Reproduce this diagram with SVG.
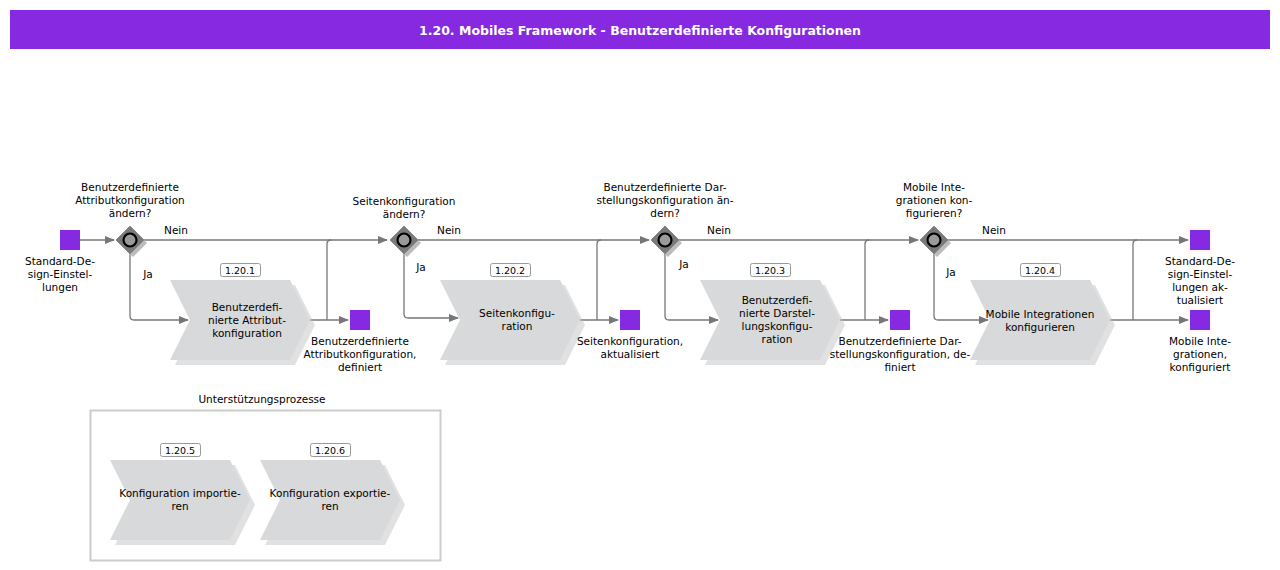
<svg xmlns="http://www.w3.org/2000/svg" width="1280" height="570" viewBox="0 0 1280 570">
<style>
text{font-family:"DejaVu Sans",Verdana,sans-serif;font-size:10.5px;fill:#000;text-anchor:middle}
.ev{fill:#8629e0}
.chev{fill:#d8d9db}
.sh{fill:#c4c4c4;opacity:.5}
.gw{fill:#7a7a7a;stroke:#888;stroke-width:1}
.gc{fill:#999;stroke:#000;stroke-width:2.2}
.tag{fill:#fff;stroke:#999;stroke-width:1}
.tagt{font-size:9.5px}
.c{fill:none;stroke:#777;stroke-width:1.3}
</style>
<defs>
<marker id="a" markerWidth="10" markerHeight="8" refX="9" refY="4" orient="auto" markerUnits="userSpaceOnUse"><path d="M0,0 L10,4 L0,8 Z" fill="#777"/></marker>
<path id="chv" d="M0,0 H120 L140,40 L120,80 H0 L20,40 Z"/>
<path id="gwp" d="M0,-14 L14,0 L0,14 L-14,0 Z"/>
</defs>
<rect x="10" y="10" width="1260" height="39" fill="#8629e0"/>
<text x="640" y="35" style="fill:#fff;font-weight:bold;font-size:12.5px">1.20. Mobiles Framework - Benutzerdefinierte Konfigurationen</text>

<g id="connectors">
<path class="c" d="M80,240 H114" marker-end="url(#a)"/>
<path class="c" d="M144,240 H387" marker-end="url(#a)"/>
<path class="c" d="M130,254 V316 Q130,320 134,320 H188" marker-end="url(#a)"/>
<path class="c" d="M310,320 H348" marker-end="url(#a)"/>
<path class="c" d="M327,320 V244 Q327,240 331,240"/>
<text x="176" y="234">Nein</text><text x="148" y="278">Ja</text>

<path class="c" d="M417,240 H649" marker-end="url(#a)"/>
<path class="c" d="M404,254 V314 Q404,318 408,318 H458" marker-end="url(#a)"/>
<path class="c" d="M580,320 H618" marker-end="url(#a)"/>
<path class="c" d="M597,320 V244 Q597,240 601,240"/>
<text x="449" y="234">Nein</text><text x="421" y="271">Ja</text>

<path class="c" d="M679,240 H918" marker-end="url(#a)"/>
<path class="c" d="M665,254 V316 Q665,320 669,320 H718" marker-end="url(#a)"/>
<path class="c" d="M840,320 H888" marker-end="url(#a)"/>
<path class="c" d="M865,320 V244 Q865,240 869,240"/>
<text x="719" y="234">Nein</text><text x="684" y="268">Ja</text>

<path class="c" d="M948,240 H1188" marker-end="url(#a)"/>
<path class="c" d="M934,254 V316 Q934,320 938,320 H988" marker-end="url(#a)"/>
<path class="c" d="M1110,320 H1188" marker-end="url(#a)"/>
<path class="c" d="M1133,320 V244 Q1133,240 1137,240"/>
<text x="994" y="234">Nein</text><text x="951" y="276">Ja</text>
</g>

<g id="start"><rect class="ev" x="60" y="230" width="20" height="20"/><text x="60" y="265">Standard-De-</text><text x="60" y="278">sign-Einstel-</text><text x="60" y="291">lungen</text></g>

<g id="gw1"><use href="#gwp" x="133" y="243" fill="#bbb"/><use class="gw" href="#gwp" x="130" y="240"/><circle class="gc" cx="130" cy="240" r="6.5"/>
<text x="130" y="191">Benutzerdefinierte</text><text x="130" y="204">Attributkonfiguration</text><text x="130" y="217">ändern?</text></g>
<g id="gw2"><use href="#gwp" x="407" y="243" fill="#bbb"/><use class="gw" href="#gwp" x="404" y="240"/><circle class="gc" cx="404" cy="240" r="6.5"/>
<text x="404" y="205">Seitenkonfiguration</text><text x="404" y="218">ändern?</text></g>
<g id="gw3"><use href="#gwp" x="668" y="243" fill="#bbb"/><use class="gw" href="#gwp" x="665" y="240"/><circle class="gc" cx="665" cy="240" r="6.5"/>
<text x="665" y="191">Benutzerdefinierte Dar-</text><text x="665" y="204">stellungskonfiguration än-</text><text x="665" y="217">dern?</text></g>
<g id="gw4"><use href="#gwp" x="937" y="243" fill="#bbb"/><use class="gw" href="#gwp" x="934" y="240"/><circle class="gc" cx="934" cy="240" r="6.5"/>
<text x="934" y="191">Mobile Inte-</text><text x="934" y="204">grationen kon-</text><text x="934" y="217">figurieren?</text></g>

<g id="p1"><use class="sh" href="#chv" x="175" y="285"/><use class="chev" href="#chv" x="170" y="280"/>
<rect class="tag" x="220.5" y="263.5" width="40" height="13" rx="2"/><text class="tagt" x="240" y="274">1.20.1</text>
<text x="247" y="311">Benutzerdefi-</text><text x="247" y="324">nierte Attribut-</text><text x="247" y="337">konfiguration</text></g>
<g id="p2"><use class="sh" href="#chv" x="445" y="285"/><use class="chev" href="#chv" x="440" y="280"/>
<rect class="tag" x="490.5" y="263.5" width="40" height="13" rx="2"/><text class="tagt" x="510" y="274">1.20.2</text>
<text x="517" y="317">Seitenkonfigu-</text><text x="517" y="330">ration</text></g>
<g id="p3"><use class="sh" href="#chv" x="705" y="285"/><use class="chev" href="#chv" x="700" y="280"/>
<rect class="tag" x="750.5" y="263.5" width="40" height="13" rx="2"/><text class="tagt" x="770" y="274">1.20.3</text>
<text x="777" y="304">Benutzerdefi-</text><text x="777" y="317">nierte Darstel-</text><text x="777" y="330">lungskonfigu-</text><text x="777" y="343">ration</text></g>
<g id="p4"><use class="sh" href="#chv" x="975" y="285"/><use class="chev" href="#chv" x="970" y="280"/>
<rect class="tag" x="1020.5" y="263.5" width="40" height="13" rx="2"/><text class="tagt" x="1040" y="274">1.20.4</text>
<text x="1040" y="318">Mobile Integrationen</text><text x="1040" y="331">konfigurieren</text></g>

<g id="e1"><rect class="ev" x="350" y="310" width="20" height="20"/><text x="360" y="345">Benutzerdefinierte</text><text x="360" y="358">Attributkonfiguration,</text><text x="360" y="371">definiert</text></g>
<g id="e2"><rect class="ev" x="620" y="310" width="20" height="20"/><text x="630" y="345">Seitenkonfiguration,</text><text x="630" y="358">aktualisiert</text></g>
<g id="e3"><rect class="ev" x="890" y="310" width="20" height="20"/><text x="900" y="345">Benutzerdefinierte Dar-</text><text x="900" y="358">stellungskonfiguration, de-</text><text x="900" y="371">finiert</text></g>
<g id="e4"><rect class="ev" x="1190" y="230" width="20" height="20"/><text x="1200" y="265">Standard-De-</text><text x="1200" y="278">sign-Einstel-</text><text x="1200" y="291">lungen ak-</text><text x="1200" y="304">tualisiert</text></g>
<g id="e5"><rect class="ev" x="1190" y="310" width="20" height="20"/><text x="1200" y="345">Mobile Inte-</text><text x="1200" y="358">grationen,</text><text x="1200" y="371">konfiguriert</text></g>

<g id="support"><rect x="90.5" y="410.5" width="350" height="150" fill="none" stroke="#ccc" stroke-width="2"/>
<text x="262" y="403">Unterstützungsprozesse</text></g>
<g id="p5"><use class="sh" href="#chv" x="115" y="465"/><use class="chev" href="#chv" x="110" y="460"/>
<rect class="tag" x="160.5" y="443.5" width="40" height="13" rx="2"/><text class="tagt" x="180" y="454">1.20.5</text>
<text x="180" y="497">Konfiguration importie-</text><text x="180" y="510">ren</text></g>
<g id="p6"><use class="sh" href="#chv" x="265" y="465"/><use class="chev" href="#chv" x="260" y="460"/>
<rect class="tag" x="310.5" y="443.5" width="40" height="13" rx="2"/><text class="tagt" x="330" y="454">1.20.6</text>
<text x="330" y="497">Konfiguration exportie-</text><text x="330" y="510">ren</text></g>
</svg>
